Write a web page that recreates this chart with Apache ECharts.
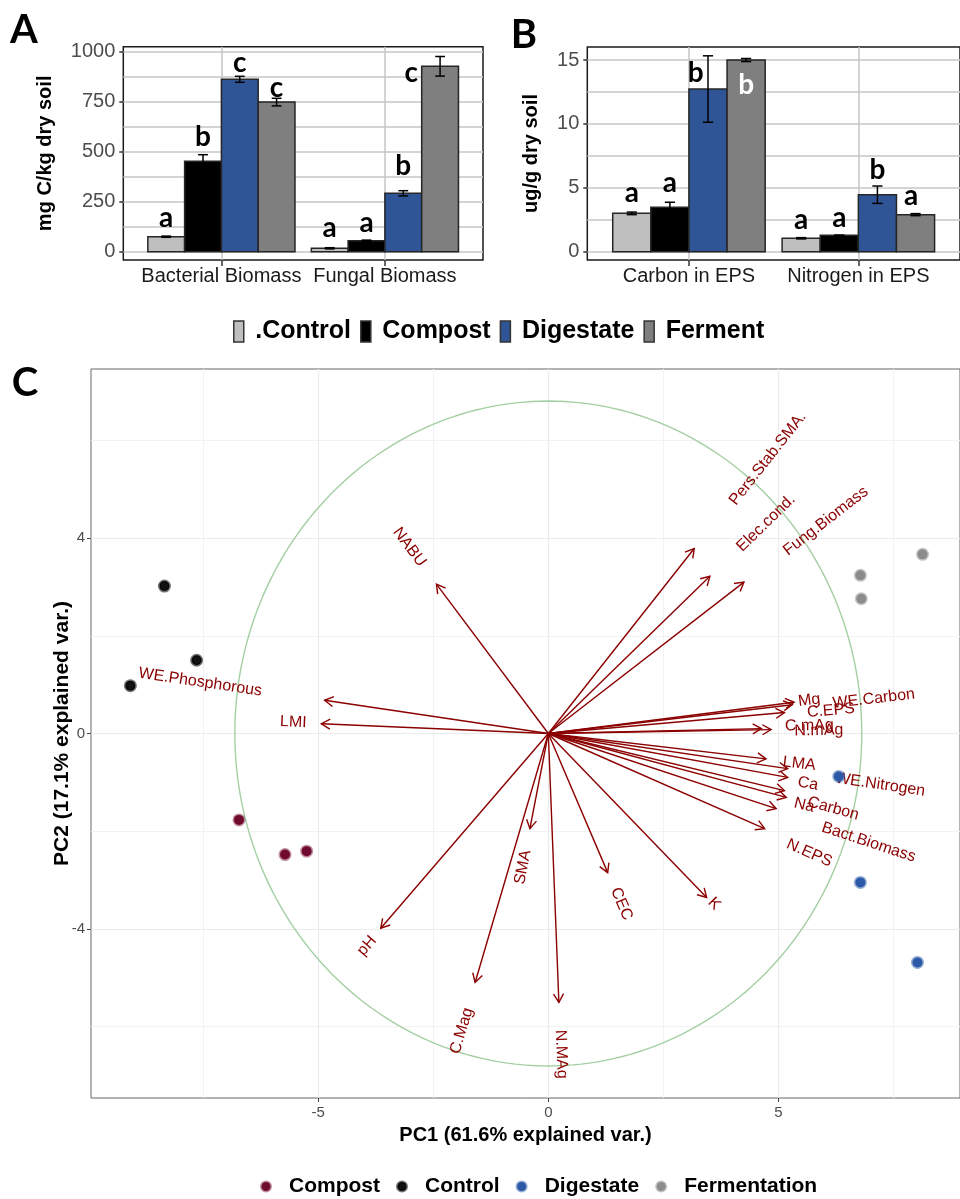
<!DOCTYPE html>
<html><head><meta charset="utf-8">
<script src="https://cdn.jsdelivr.net/npm/echarts@6/dist/echarts.min.js"></script>
<style>html,body{margin:0;padding:0;background:#fff}#c{width:960px;height:1199px}</style>
</head><body><div id="c"></div>
<script>
// ---------------- Panels A and B (bars) ----------------
const treatments = ['.Control', 'Compost', 'Digestate', 'Ferment'];
const barColors = ['#bfbfbf', '#000000', '#2f5597', '#7f7f7f'];
const catsA = ['Bacterial Biomass', 'Fungal Biomass'];
const catsB = ['Carbon in EPS', 'Nitrogen in EPS'];
// rows = treatments, columns = categories
const meanA = [[75, 17], [452, 55], [862, 292], [748, 927]];
const errA = [[3, 3], [33, 3], [15, 13], [19, 49]];
const lettersA = [['a', 'a'], ['b', 'a'], ['c', 'b'], ['c', 'c']];
const letterYA = [[168, 120], [574, 145], [942, 430], [821, 894]];
const letterDxA = [[0, 0], [0, 0], [0, 0], [0, -0.177]];
const meanB = [[3.0, 1.05], [3.47, 1.28], [12.73, 4.46], [15.0, 2.9]];
const errB = [[0.1, 0.05], [0.4, 0.02], [2.6, 0.68], [0.12, 0.08]];
const lettersB = [['a', 'a'], ['a', 'a'], ['b', 'b'], ['b', 'a']];
const letterYB = [[4.57, 2.46], [5.38, 2.64], [14.02, 6.39], [13.04, 4.37]];
const letterDxB = [[0, 0], [0, 0], [-0.073, 0], [0, -0.026]];
const ticksA = [0, 250, 500, 750, 1000];
const minorA = [125, 375, 625, 875];
const ticksB = [0, 5, 10, 15];
const minorB = [2.5, 7.5, 12.5];

// ---------------- Panel C (PCA biplot) ----------------
const varNames = ['Pers.Stab.SMA.', 'Elec.cond.', 'Fung.Biomass', 'Mg', 'WE.Carbon', 'C.EPS', 'C.mAg', 'N.mAg',
  'LMA', 'WE.Nitrogen', 'Ca', 'Na', 'Carbon', 'Bact.Biomass', 'N.EPS', 'K', 'CEC', 'N.MAg', 'SMA', 'C.Mag',
  'pH', 'LMI', 'WE.Phosphorous', 'NABU'];
const loadPC1 = [3.17, 3.51, 4.25, 5.34, 5.30, 5.13, 4.84, 4.63, 4.73, 5.20, 5.20, 5.13, 5.17, 4.95, 4.70, 3.44, 1.29, 0.23, -0.40, -1.59, -3.64, -4.93, -4.86, -2.43];
const loadPC2 = [3.79, 3.22, 3.10, 0.64, 0.59, 0.43, 0.08, 0.10, -0.52, -0.72, -0.90, -1.17, -1.31, -1.54, -1.95, -3.36, -2.85, -5.51, -1.95, -5.10, -3.99, 0.20, 0.68, 3.06];
const labelPC1 = [4.77, 4.73, 6.03, 5.67, 7.07, 6.14, 5.67, 5.88, 5.45, 7.21, 5.64, 5.56, 6.19, 6.96, 5.67, 3.60, 1.59, 0.28, -0.55, -1.88, -3.94, -5.54, -7.56, -3.02];
const labelPC2 = [5.63, 4.31, 4.35, 0.68, 0.71, 0.47, 0.16, 0.06, -0.62, -1.05, -1.03, -1.47, -1.54, -2.23, -2.45, -3.49, -3.49, -6.57, -2.74, -6.09, -4.35, 0.23, 1.05, 3.82];
const circleRadius = 6.81;
const groupsPC = ['Compost', 'Control', 'Digestate', 'Fermentation'];
const compostPC = [[-6.72, -1.77], [-5.72, -2.48], [-5.25, -2.41]];
const controlPC = [[-8.34, 3.02], [-7.64, 1.50], [-9.08, 0.98]];
const digestatePC = [[6.31, -0.88], [6.78, -3.05], [8.02, -4.69]];
const fermentationPC = [[6.78, 3.24], [6.80, 2.76], [8.13, 3.67]];
const ticksPC1 = [-5, 0, 5], minorPC1 = [-7.5, -2.5, 2.5, 7.5];
const ticksPC2 = [-4, 0, 4], minorPC2 = [-6, -2, 2, 6];

const groupColors = ['#700a2e', '#111111', '#2c5aa8', '#8c8c8c'];
const groupRings = ['rgba(112,10,46,0.45)', 'rgba(0,0,0,0.55)', 'rgba(44,90,168,0.5)', 'rgba(140,140,140,0.5)'];
const FONT = "'Liberation Sans', Arial, sans-serif";
const LFONT = "Lato, 'Open Sans', sans-serif";
const darkred = '#8b0000';

function barSeries(ti, means, errs, letters, letterY, letterDx, xi, yi) {
  return {
    type: 'custom', name: treatments[ti], xAxisIndex: xi, yAxisIndex: yi, silent: true,
    itemStyle: { color: barColors[ti] },
    data: means[ti].map((m, ci) => [ci + 1, m, errs[ti][ci], letterY[ti][ci], letterDx[ti][ci]]),
    renderItem: function (params, api) {
      const c = api.value(0), v = api.value(1), e = api.value(2), ly = api.value(3), dx = api.value(4);
      const w = 0.9 / treatments.length;
      const left = c - 0.45 + ti * w, mid = left + w / 2;
      const tl = api.coord([left, v]), br = api.coord([left + w, 0]);
      const et = api.coord([mid, v + e]), eb = api.coord([mid, v - e]);
      const cl = api.coord([mid - 0.03, v])[0], cr = api.coord([mid + 0.03, v])[0];
      const lp = api.coord([mid + dx, ly]);
      const inside = ly < v && Math.abs(dx) < w / 2;
      const es = { stroke: '#000', lineWidth: 1.5 };
      return {
        type: 'group', children: [
          { type: 'rect', shape: { x: tl[0], y: tl[1], width: br[0] - tl[0], height: br[1] - tl[1] }, style: { fill: barColors[ti], stroke: '#262626', lineWidth: 1.5 } },
          { type: 'line', shape: { x1: et[0], y1: et[1], x2: eb[0], y2: eb[1] }, style: es },
          { type: 'line', shape: { x1: cl, y1: et[1], x2: cr, y2: et[1] }, style: es },
          { type: 'line', shape: { x1: cl, y1: eb[1], x2: cr, y2: eb[1] }, style: es },
          { type: 'text', x: lp[0], y: lp[1], style: { text: letters[ti][params.dataIndex], fill: inside ? '#ffffff' : '#000000', fontSize: 28, fontWeight: 'bold', fontFamily: LFONT, align: 'center', verticalAlign: 'middle', textAlign: 'center', textVerticalAlign: 'middle' } }
        ]
      };
    }
  };
}

const gridLineAB = { show: true, lineStyle: { color: '#c6c6c6', width: 1.5 } };
const gridLineC = { show: true, lineStyle: { color: '#ebebeb', width: 1.2 } };
const gridLineCminor = { show: true, lineStyle: { color: '#f2f2f2', width: 1 } };

function catXAxis(gi, cats) {
  return {
    type: 'value', gridIndex: gi, min: 0.4, max: 2.6,
    axisLine: { show: false, onZero: false },
    axisTick: { show: true, customValues: [1, 2], length: 6, lineStyle: { color: '#333', width: 1.5 } },
    axisLabel: { customValues: [1, 2], formatter: v => cats[Math.round(v) - 1], fontSize: 20, color: '#1a1a1a', fontFamily: FONT, margin: 6 },
    splitLine: gridLineAB
  };
}
function valYAxis(gi, min, max, ticks, name, gap) {
  return {
    type: 'value', gridIndex: gi, min: min, max: max,
    axisLine: { show: false, onZero: false },
    axisTick: { show: true, customValues: ticks, length: 4, lineStyle: { color: '#333', width: 1.5 } },
    axisLabel: { customValues: ticks, formatter: v => String(v), fontSize: 20, color: '#4d4d4d', fontFamily: FONT, margin: 8 },
    splitLine: gridLineAB,
    name: name, nameLocation: 'middle', nameRotate: 90, nameGap: gap,
    nameTextStyle: { fontSize: 20, fontWeight: 'bold', color: '#000', fontFamily: FONT }
  };
}
function minorAxis(gi, min, max, vals, sl) {
  return {
    type: 'value', gridIndex: gi, min: min, max: max,
    axisLine: { show: false, onZero: false }, axisLabel: { show: false },
    axisTick: { show: false, customValues: vals }, splitLine: sl
  };
}

const series = [];
for (let t = 0; t < 4; t++) series.push(barSeries(t, meanA, errA, lettersA, letterYA, letterDxA, 0, 0));
for (let t = 0; t < 4; t++) series.push(barSeries(t, meanB, errB, lettersB, letterYB, letterDxB, 1, 2));

// correlation circle
series.push({
  type: 'custom', xAxisIndex: 2, yAxisIndex: 4, silent: true, data: [[0, 0, circleRadius]],
  renderItem: function (params, api) {
    const r = api.value(2), pts = [];
    for (let k = 0; k <= 240; k++) { const a = k / 240 * 2 * Math.PI; pts.push(api.coord([r * Math.cos(a), r * Math.sin(a)])); }
    return { type: 'polyline', shape: { points: pts }, style: { stroke: '#a3cfa3', lineWidth: 1.4, fill: 'none' } };
  }
});
// loading arrows
series.push({
  type: 'custom', xAxisIndex: 2, yAxisIndex: 4, silent: true,
  data: varNames.map((n, i) => [loadPC1[i], loadPC2[i]]),
  renderItem: function (params, api) {
    const o = api.coord([0, 0]), t = api.coord([api.value(0), api.value(1)]);
    const ang = Math.atan2(t[1] - o[1], t[0] - o[0]);
    const ah = 10, aa = Math.PI / 6;
    const p1 = [t[0] - ah * Math.cos(ang - aa), t[1] - ah * Math.sin(ang - aa)];
    const p2 = [t[0] - ah * Math.cos(ang + aa), t[1] - ah * Math.sin(ang + aa)];
    const st = { stroke: darkred, lineWidth: 1.4, fill: 'none' };
    return {
      type: 'group', children: [
        { type: 'line', shape: { x1: o[0], y1: o[1], x2: t[0], y2: t[1] }, style: st },
        { type: 'polyline', shape: { points: [p1, t, p2] }, style: st }
      ]
    };
  }
});
// sample scores
[compostPC, controlPC, digestatePC, fermentationPC].forEach((pts, g) => {
  series.push({
    type: 'scatter', name: groupsPC[g], xAxisIndex: 2, yAxisIndex: 4, silent: true,
    data: pts, symbolSize: 10,
    itemStyle: { color: groupColors[g], borderColor: groupRings[g], borderWidth: 3, opacity: 1 }
  });
});
// variable labels
series.push({
  type: 'custom', xAxisIndex: 2, yAxisIndex: 4, silent: true,
  data: varNames.map((n, i) => [labelPC1[i], labelPC2[i], loadPC1[i], loadPC2[i]]),
  renderItem: function (params, api) {
    const o = api.coord([0, 0]), t = api.coord([api.value(2), api.value(3)]);
    const l = api.coord([api.value(0), api.value(1)]);
    const rot = Math.atan(-(t[1] - o[1]) / (t[0] - o[0]));
    return {
      type: 'text', x: l[0], y: l[1], rotation: rot,
      style: { text: varNames[params.dataIndex], fill: darkred, fontSize: 16, fontFamily: FONT, align: 'center', verticalAlign: 'middle', textAlign: 'center', textVerticalAlign: 'middle' }
    };
  }
});

const option = {
  animation: false,
  backgroundColor: '#ffffff',
  grid: [
    { left: 123.3, top: 46.7, width: 359.7, height: 213.3, show: true, borderColor: '#1a1a1a', borderWidth: 1.5, backgroundColor: 'transparent' },
    { left: 587.3, top: 47, width: 381.3, height: 213, show: true, borderColor: '#1a1a1a', borderWidth: 1.5, backgroundColor: 'transparent' },
    { left: 91, top: 369, width: 876, height: 729, show: true, borderColor: '#666', borderWidth: 1, backgroundColor: 'transparent' }
  ],
  xAxis: [
    catXAxis(0, catsA),
    catXAxis(1, catsB),
    {
      type: 'value', gridIndex: 2, min: -9.935, max: 8.944,
      axisLine: { show: false, onZero: false },
      axisTick: { show: true, customValues: ticksPC1, length: 4, lineStyle: { color: '#444' } },
      axisLabel: { customValues: ticksPC1, fontSize: 15, color: '#4d4d4d', fontFamily: FONT, margin: 7 },
      splitLine: gridLineC,
      name: 'PC1 (61.6% explained var.)', nameLocation: 'middle', nameGap: 27,
      nameTextStyle: { fontSize: 20, fontWeight: 'bold', color: '#000', fontFamily: FONT }
    },
    minorAxis(2, -9.935, 8.944, minorPC1, gridLineCminor)
  ],
  yAxis: [
    valYAxis(0, -41.5, 1025, ticksA, 'mg C/kg dry soil', 68),
    minorAxis(0, -41.5, 1025, minorA, gridLineAB),
    valYAxis(1, -0.65, 16.02, ticksB, 'ug/g dry soil', 46),
    minorAxis(1, -0.65, 16.02, minorB, gridLineAB),
    {
      type: 'value', gridIndex: 2, min: -7.467, max: 7.467,
      axisLine: { show: false, onZero: false },
      axisTick: { show: true, customValues: ticksPC2, length: 4, lineStyle: { color: '#444' } },
      axisLabel: { customValues: ticksPC2, fontSize: 15, color: '#4d4d4d', fontFamily: FONT, margin: 6 },
      splitLine: gridLineC,
      name: 'PC2 (17.1% explained var.)', nameLocation: 'middle', nameRotate: 90, nameGap: 18, nameMoveOverlap: false,
      nameTextStyle: { fontSize: 21, fontWeight: 'bold', color: '#000', fontFamily: FONT }
    },
    minorAxis(2, -7.467, 7.467, minorPC2, gridLineCminor)
  ],
  legend: [
    {
      data: treatments.map((t, i) => ({ name: t, icon: 'path://M0,0L10,0L10,21L0,21Z', itemStyle: { color: barColors[i], borderColor: '#333', borderWidth: 1.5 } })),
      left: 233, top: 319, itemWidth: 23, itemHeight: 21, itemGap: 9, padding: 0, selectedMode: false,
      textStyle: { fontSize: 25, fontWeight: 'bold', color: '#000', fontFamily: FONT }
    },
    {
      data: groupsPC.map((g, i) => ({ name: g, icon: 'circle', itemStyle: { color: groupColors[i], borderColor: groupRings[i], borderWidth: 3 } })),
      left: 260, top: 1176, itemWidth: 36, itemHeight: 9, itemGap: 16, padding: 0, selectedMode: false,
      textStyle: { fontSize: 21, fontWeight: 'bold', color: '#000', fontFamily: FONT }
    }
  ],
  graphic: [
    { type: 'text', x: 24, y: 30, style: { text: 'A', fontSize: 40, fontWeight: 'bold', fontFamily: LFONT, fill: '#000', align: 'center', verticalAlign: 'middle' } },
    { type: 'text', x: 524, y: 35, style: { text: 'B', fontSize: 40, fontWeight: 'bold', fontFamily: LFONT, fill: '#000', align: 'center', verticalAlign: 'middle' } },
    { type: 'text', x: 25, y: 383, style: { text: 'C', fontSize: 40, fontWeight: 'bold', fontFamily: LFONT, fill: '#000', align: 'center', verticalAlign: 'middle' } }
  ],
  series: series
};
const chart = echarts.init(document.getElementById('c'), null, { renderer: 'canvas' });
chart.setOption(option);
</script></body></html>
